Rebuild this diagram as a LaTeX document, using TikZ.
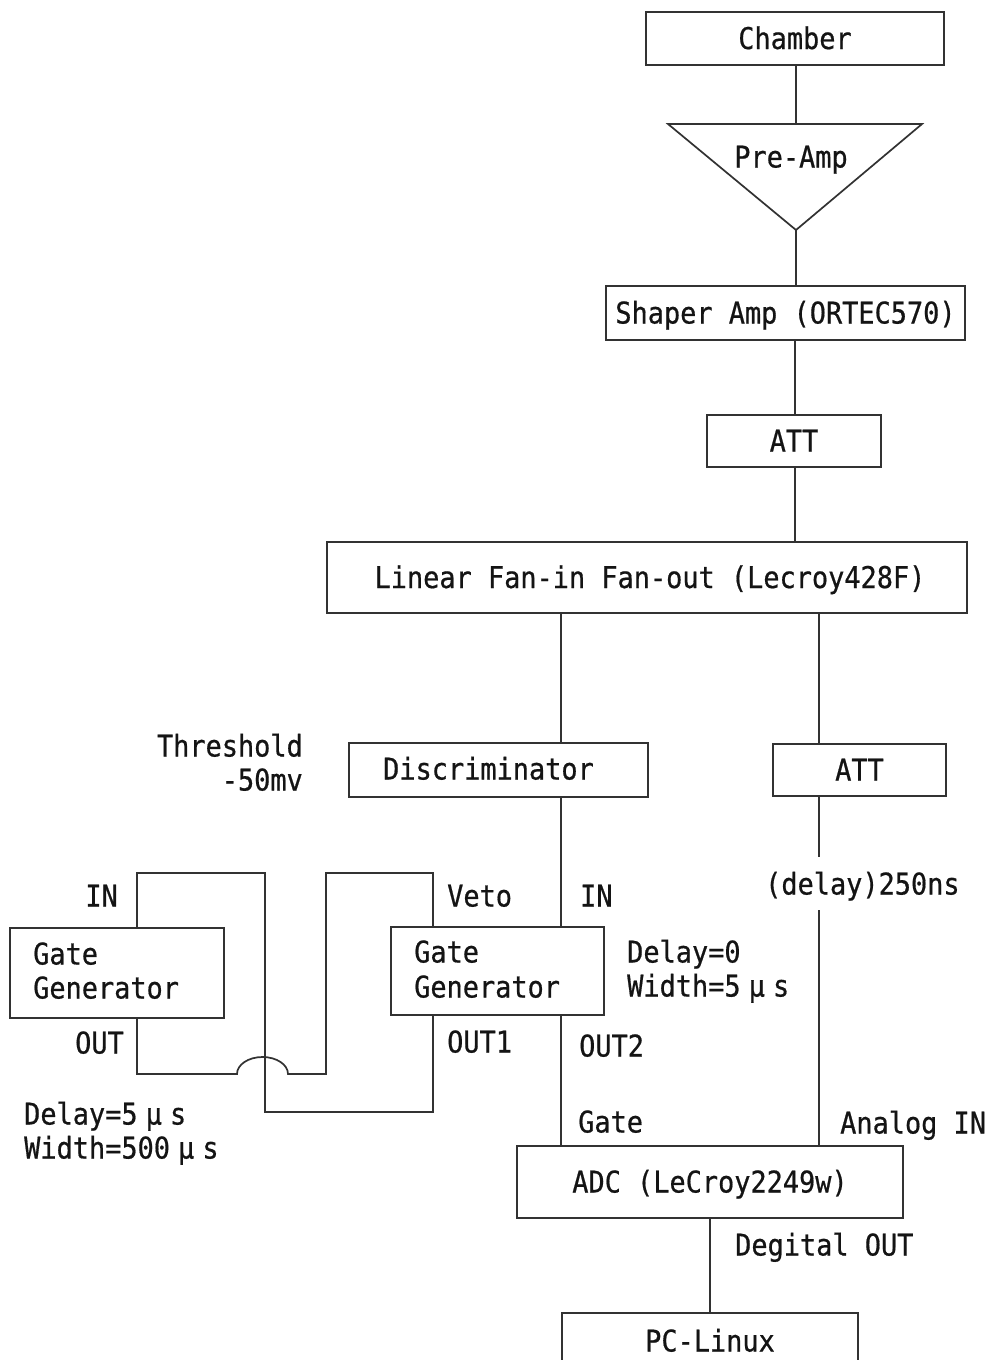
\documentclass[tikz,border=0pt]{standalone}
\usepackage{fontspec}
\newfontfamily\gfont{DejaVu Sans Mono}[FakeStretch=0.9,FakeBold=0.6]
\newcommand\gsize{\gfont\fontsize{29.9}{34}\selectfont}
\newcommand\mus{\makebox[32.4pt]{μ}s}
\definecolor{linec}{RGB}{50,50,50}
\definecolor{txtc}{RGB}{20,20,20}
\begin{document}
\begin{tikzpicture}[x=1pt,y=-1pt,
  box/.style={draw=linec, line width=1.7pt, inner sep=0pt, font=\gsize, text=txtc, text height=21pt, text depth=0pt},
  lbl/.style={inner sep=0pt, font=\gsize, text=txtc, text height=21pt, text depth=0pt},
  wire/.style={draw=linec, line width=1.7pt}]
\clip (0,0) rectangle (993,1360);
\fill[white] (0,0) rectangle (993,1360);
% column coordinates
\coordinate (c137) at (137,0);
\coordinate (c433) at (433,0);
\coordinate (c561) at (561,0);
\coordinate (c795) at (795,0);
\coordinate (c819) at (819,0);
% boxes
\node[box, minimum width=298pt, minimum height=53pt] (chamber) at (795,38.5) {Chamber};
\coordinate (patl) at (668,124);
\coordinate (patr) at (922,124);
\coordinate (patop) at (796,124);
\coordinate (paapex) at (796,230);
\draw[wire, line join=miter] (patl) -- (patr) -- (paapex) -- cycle;
\node[lbl] (pa) at (791,157) {Pre-Amp};
\node[box, minimum width=359pt, minimum height=54pt] (shaper) at (785.5,313) {Shaper Amp (ORTEC570)};
\node[box, minimum width=174pt, minimum height=52pt] (att1) at (794,441) {ATT};
\node[box, minimum width=640pt, minimum height=71pt] (fan) at (647,577.5) {\hspace*{6pt}Linear Fan-in Fan-out (Lecroy428F)};
\node[box, minimum width=299pt, minimum height=54pt] (disc) at (498.5,770) {};
\node[lbl, anchor=west] (disct) at (383,769) {Discriminator};
\node[box, minimum width=173pt, minimum height=52pt] (att2) at (859.5,770) {ATT};
\node[lbl, anchor=east] (thr1) at (303,746) {Threshold};
\node[lbl, anchor=east] (thr2) at (303,780) {-50mv};
\node[box, minimum width=214pt, minimum height=90pt] (gg1) at (117,973) {};
\node[lbl, anchor=west] (gg1a) at (33,954) {Gate};
\node[lbl, anchor=west] (gg1b) at (33,988) {Generator};
\node[box, minimum width=213pt, minimum height=88pt] (gg2) at (497.5,971) {};
\node[lbl, anchor=west] (gg2a) at (414,952) {Gate};
\node[lbl, anchor=west] (gg2b) at (414,987) {Generator};
\node[box, minimum width=386pt, minimum height=72pt] (adc) at (710,1182) {ADC (LeCroy2249w)};
\node[box, minimum width=296pt, minimum height=100pt] (pc) at (710,1363) {};
\node[lbl] (pct) at (710,1341) {PC-Linux};
% main chain
\draw[wire] (chamber.south -| patop) -- (patop);
\draw[wire] (paapex) -- (shaper.north -| paapex);
\draw[wire] (shaper.south -| c795) -- (att1.north -| c795);
\draw[wire] (att1.south -| c795) -- (fan.north -| c795);
\draw[wire] (fan.south -| c561) -- (disc.north -| c561);
\draw[wire] (disc.south -| c561) -- (gg2.north -| c561);
\draw[wire] (gg2.south -| c561) -- (adc.north -| c561);
\draw[wire] (fan.south -| c819) -- (att2.north -| c819);
\coordinate (dl1) at (819,857);
\coordinate (dl2) at (819,910);
\draw[wire] (att2.south -| c819) -- (dl1);
\draw[wire] (dl2) -- (adc.north -| dl2);
\draw[wire] (adc.south) -- (pc.north);
% gate generator loops
\coordinate (k1) at (265,873);
\coordinate (k2) at (265,1112);
\draw[wire] (gg1.north -| c137) |- (k1) -- (k2) -| (gg2.south -| c433);
\coordinate (v1) at (326,873);
\coordinate (v2) at (326,1074);
\coordinate (j1) at (288,1074);
\draw[wire] (gg2.north -| c433) |- (v1) -- (v2) -- (j1)
  arc[start angle=0, end angle=180, x radius=25.5pt, y radius=17pt] -| (gg1.south -| c137);
% labels
\node[lbl, anchor=east] (lin1) at (118,896) {IN};
\node[lbl, anchor=west] (lveto) at (447,896) {Veto};
\node[lbl, anchor=west] (lin2) at (580,896) {IN};
\node[lbl, anchor=west] (ldelay) at (765,884) {(delay)250ns};
\node[lbl, anchor=west] (ld0) at (627,952) {Delay=0};
\node[lbl, anchor=west] (lw5) at (627,986) {Width=5\mus};
\node[lbl, anchor=west] (lout) at (75,1043) {OUT};
\node[lbl, anchor=west] (lout1) at (447,1042) {OUT1};
\node[lbl, anchor=west] (lout2) at (579,1046) {OUT2};
\node[lbl, anchor=west] (ld5) at (24,1114) {Delay=5\mus};
\node[lbl, anchor=west] (lw500) at (24,1148) {Width=500\mus};
\node[lbl, anchor=west] (lgate) at (578,1122) {Gate};
\node[lbl, anchor=west] (lana) at (840,1123) {Analog IN};
\node[lbl, anchor=west] (ldig) at (735,1245) {Degital OUT};
\end{tikzpicture}
\end{document}
